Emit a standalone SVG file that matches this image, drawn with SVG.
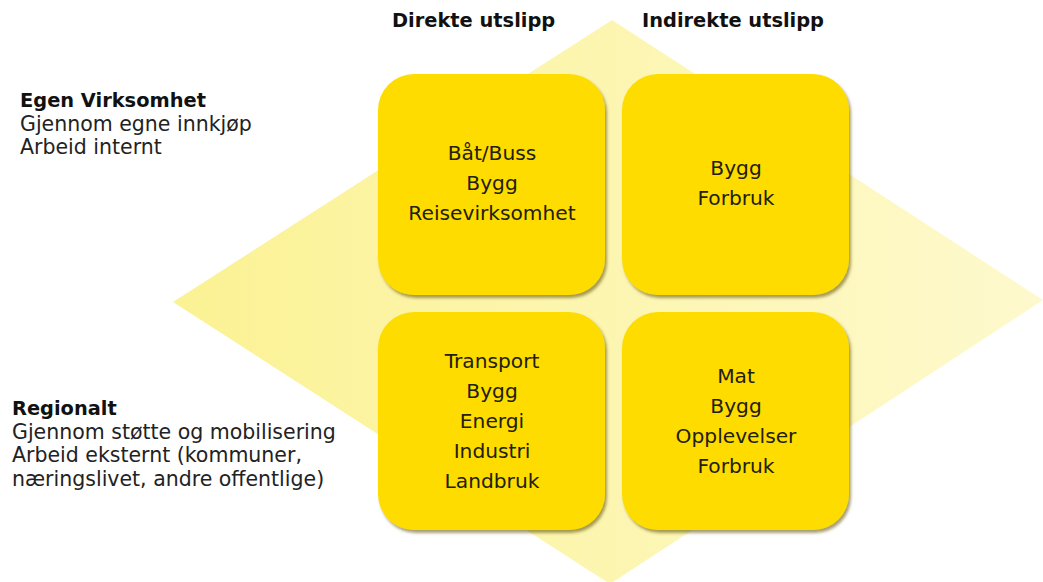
<svg xmlns="http://www.w3.org/2000/svg" width="1043" height="582" viewBox="0 0 1043 582">
<style>
.hb{font-family:"DejaVu Sans",Verdana,sans-serif;font-weight:bold;font-size:19.4px;fill:#111}
.t{font-family:"DejaVu Sans",Verdana,sans-serif;font-size:20.5px;fill:#222}
.bt{font-family:"DejaVu Sans",Verdana,sans-serif;font-size:20.2px;fill:#22200c;text-anchor:middle}
.box{fill:url(#bg);filter:url(#sh)}
</style>
<defs>
<linearGradient id="dg" x1="0" y1="0" x2="1" y2="0">
<stop offset="0" stop-color="#fbf294"/>
<stop offset="1" stop-color="#fef9cd"/>
</linearGradient>
<linearGradient id="bg" x1="0" y1="0" x2="0" y2="1">
<stop offset="0" stop-color="#ffdc00"/>
<stop offset="1" stop-color="#fedc00"/>
</linearGradient>
<filter id="sh" x="-10%" y="-10%" width="120%" height="120%">
<feDropShadow dx="2" dy="3" stdDeviation="1.6" flood-color="#5e5000" flood-opacity="0.55"/>
</filter>
</defs>
<polygon points="612,20 1043,300 610,584 173,302" fill="url(#dg)"/>
<text class="hb" x="392" y="27">Direkte utslipp</text>
<text class="hb" x="642" y="27">Indirekte utslipp</text>
<g id="egen">
<text class="hb" x="20" y="107">Egen Virksomhet</text>
<text class="t" x="20" y="131">Gjennom egne innkjøp</text>
<text class="t" x="20" y="154">Arbeid internt</text>
</g>
<g id="regionalt">
<text class="hb" x="12" y="415">Regionalt</text>
<text class="t" x="12" y="439">Gjennom støtte og mobilisering</text>
<text class="t" x="12" y="462">Arbeid eksternt (kommuner,</text>
<text class="t" x="12" y="486">næringslivet, andre offentlige)</text>
</g>
<g id="connectors"></g>
<g id="box-tl">
<rect class="box" x="378" y="74" width="227" height="221" rx="36"/>
<text class="bt" x="492" y="160">Båt/Buss</text>
<text class="bt" x="492" y="190">Bygg</text>
<text class="bt" x="492" y="220">Reisevirksomhet</text>
</g>
<g id="box-tr">
<rect class="box" x="622" y="74" width="227" height="221" rx="36"/>
<text class="bt" x="736" y="175">Bygg</text>
<text class="bt" x="736" y="205">Forbruk</text>
</g>
<g id="box-bl">
<rect class="box" x="378" y="312" width="227" height="218" rx="36"/>
<text class="bt" x="492" y="368">Transport</text>
<text class="bt" x="492" y="398">Bygg</text>
<text class="bt" x="492" y="428">Energi</text>
<text class="bt" x="492" y="458">Industri</text>
<text class="bt" x="492" y="488">Landbruk</text>
</g>
<g id="box-br">
<rect class="box" x="622" y="312" width="227" height="218" rx="36"/>
<text class="bt" x="736" y="383">Mat</text>
<text class="bt" x="736" y="413">Bygg</text>
<text class="bt" x="736" y="443">Opplevelser</text>
<text class="bt" x="736" y="473">Forbruk</text>
</g>
</svg>
